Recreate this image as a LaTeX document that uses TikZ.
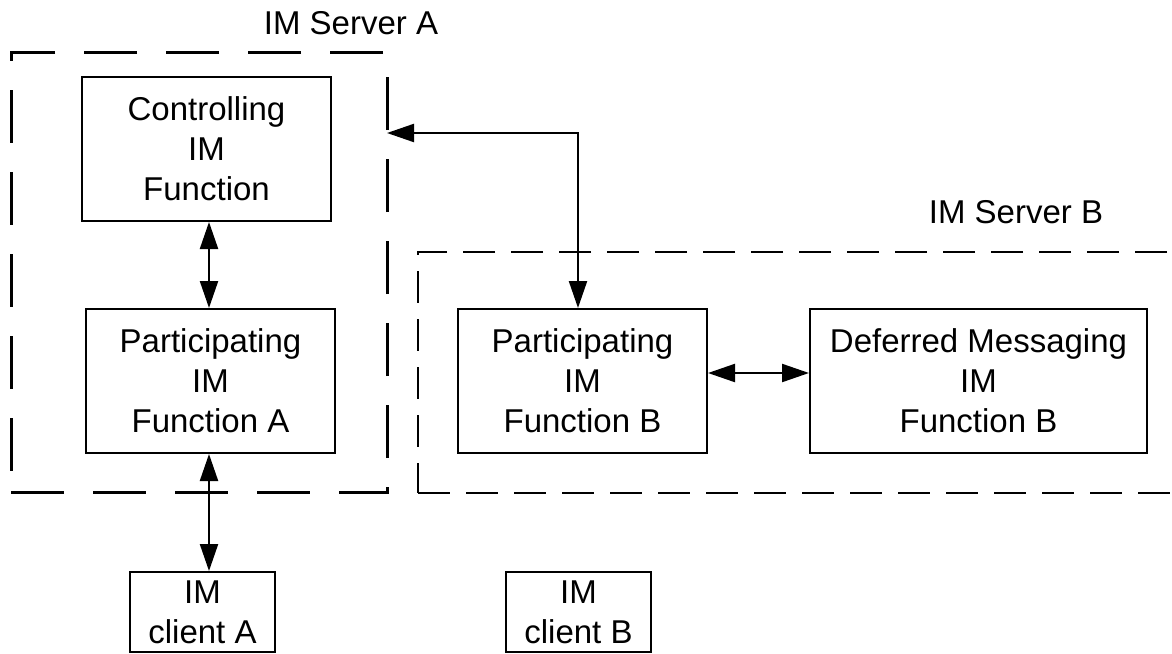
\documentclass[tikz,border=0pt]{standalone}
\usepackage{fontspec}
\setmainfont{Liberation Sans}
\usetikzlibrary{arrows.meta}
\begin{document}
\begin{tikzpicture}[x=0.5pt,y=-0.5pt,
  txt/.style={font=\fontsize{16.5}{20}\selectfont},
  fbox/.style={draw,line width=1pt,inner sep=0pt,align=center,txt},
  srva/.style={draw,line width=1.5pt,dash pattern=on 26.5pt off 14.5pt,inner sep=0pt,outer sep=0pt},
  srvb/.style={draw,line width=1pt,dash pattern=on 16pt off 8pt,inner sep=0pt,outer sep=0pt},
  conn/.style={line width=1.1pt,{Triangle[length=13.5pt,width=9pt]}-{Triangle[length=13.5pt,width=9pt]}}]
\clip (0,0) rectangle (1172,653);
% server containers
\node[srva,minimum width=188pt,minimum height=220pt] (srvA) at (199,272) {};
\node[srvb,minimum width=391pt,minimum height=120.5pt] (srvB) at (809,372.5) {};
\node[txt] (lblA) at (351,23) {IM Server A};
\node[txt] (lblB) at (1016,212) {IM Server B};
% function boxes
\node[fbox,minimum width=124.5pt,minimum height=72pt] (ctrl) at (206.5,149) {Controlling\\IM\\Function};
\node[fbox,minimum width=124.5pt,minimum height=72pt] (pA) at (210.5,381) {Participating\\IM\\Function A};
\node[fbox,minimum width=124.5pt,minimum height=72pt] (pB) at (582.5,381) {Participating\\IM\\Function B};
\node[fbox,minimum width=168.5pt,minimum height=72pt] (def) at (978.5,381) {Deferred Messaging\\IM\\Function B};
\node[fbox,minimum width=72.5pt,minimum height=40pt] (cA) at (202.5,612) {IM\\client A};
\node[fbox,minimum width=72.5pt,minimum height=40pt] (cB) at (578.5,612) {IM\\client B};
% connectors
\coordinate (ax) at (209,0);
\draw[conn] (ctrl.south -| ax) -- (pA.north -| ax);
\draw[conn] (pA.south -| ax) -- (cA.north -| ax);
\coordinate (hy) at (0,373);
\draw[conn] (pB.east |- hy) -- (def.west |- hy);
\coordinate (vx) at (578,133);
\draw[conn] (srvA.east |- vx) -| (pB.north -| vx);
\end{tikzpicture}
\end{document}
